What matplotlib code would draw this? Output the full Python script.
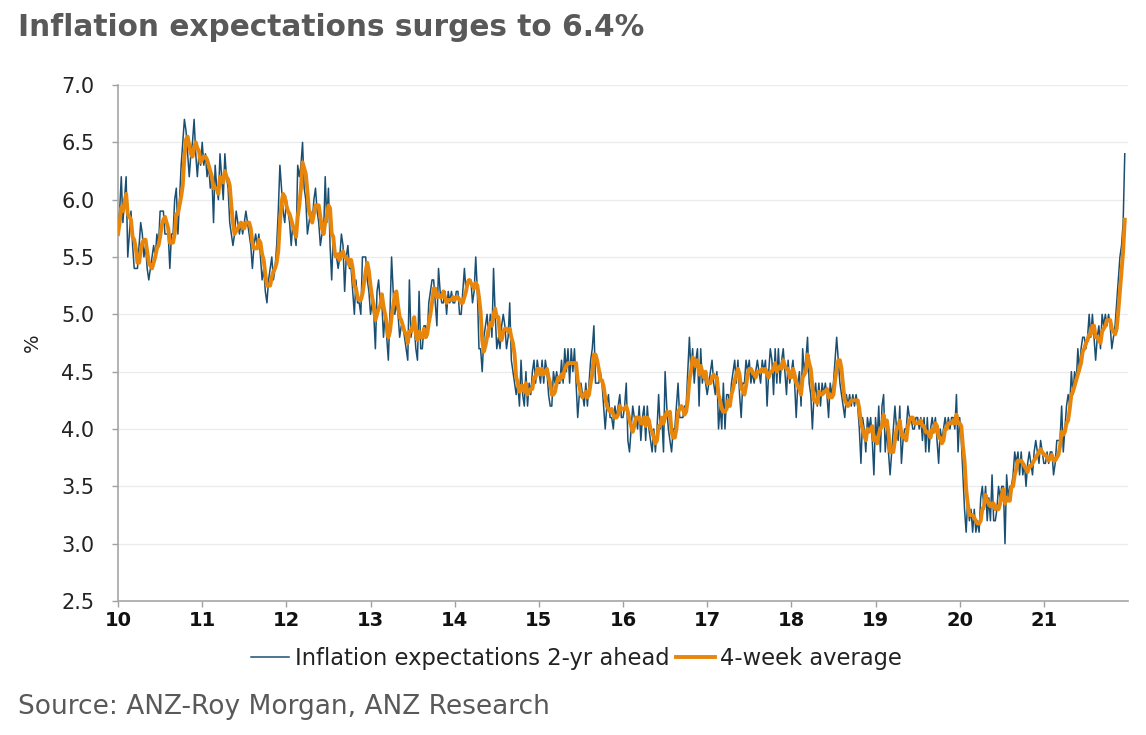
import matplotlib
matplotlib.use("Agg")
import matplotlib.pyplot as plt
import numpy as np
import pandas as pd

# Weekly inflation expectations (2-yr ahead), %, by year
y2010 = [5.7,5.9,6.2,5.8,6.0,6.2,5.5,5.7,5.9,5.6,5.4,5.4,5.4,5.6,5.8,5.7,5.5,5.6,5.4,5.3,
         5.4,5.5,5.6,5.5,5.7,5.6,5.9,5.9,5.9,5.7,5.7,5.7,5.4,5.7,5.7,6.0,6.1,5.7,6.0,6.3,
         6.5,6.7,6.6,6.4,6.2,6.4,6.5,6.7,6.4,6.2,6.4,6.3]
y2011 = [6.5,6.3,6.4,6.2,6.3,6.1,6.2,5.8,6.3,6.1,6.0,6.4,6.2,6.0,6.4,6.2,6.1,5.8,5.7,5.6,
         5.7,5.9,5.8,5.7,5.8,5.7,5.8,5.9,5.8,5.7,5.6,5.4,5.6,5.7,5.6,5.7,5.5,5.3,5.4,5.2,
         5.1,5.3,5.4,5.5,5.3,5.4,5.6,5.9,6.3,6.1,5.9,5.8]
y2012 = [6.0,5.9,5.8,5.6,5.8,5.7,5.6,6.3,6.2,6.3,6.5,6.1,6.0,5.7,5.8,5.9,5.8,6.0,6.1,5.9,
         5.8,5.6,5.7,5.7,6.2,5.8,6.1,5.6,5.3,5.7,5.5,5.5,5.4,5.5,5.7,5.6,5.2,5.5,5.6,5.4,
         5.4,5.2,5.0,5.3,5.1,5.1,5.0,5.5,5.5,5.5,5.3,5.2]
y2013 = [5.0,5.1,5.0,4.7,5.2,5.3,5.1,5.1,4.8,5.0,4.8,4.6,5.0,5.5,5.2,5.0,5.1,5.0,4.8,4.9,
         4.9,4.8,4.7,4.6,5.3,4.8,4.9,4.9,4.7,4.6,5.2,4.7,4.7,4.9,4.9,4.8,5.1,5.2,5.3,5.3,
         5.1,4.9,5.4,5.2,5.1,5.1,5.2,5.0,5.2,5.1,5.2,5.1]
y2014 = [5.1,5.2,5.2,5.0,5.0,5.2,5.4,5.2,5.3,5.3,5.3,5.1,5.2,5.5,5.2,4.7,4.7,4.5,4.8,4.9,
         5.0,4.8,5.0,4.8,5.4,5.0,4.7,4.8,4.7,4.9,5.0,4.9,4.7,4.8,5.1,4.6,4.5,4.4,4.3,4.4,
         4.2,4.6,4.3,4.2,4.5,4.2,4.4,4.3,4.5,4.6,4.4,4.6]
y2015 = [4.5,4.4,4.6,4.4,4.6,4.5,4.3,4.2,4.2,4.5,4.4,4.5,4.4,4.4,4.6,4.4,4.7,4.5,4.7,4.4,
         4.7,4.5,4.7,4.4,4.1,4.3,4.4,4.3,4.2,4.4,4.2,4.4,4.6,4.7,4.9,4.4,4.4,4.4,4.5,4.4,
         4.2,4.0,4.2,4.3,4.1,4.1,4.0,4.2,4.1,4.2,4.3,4.1]
y2016 = [4.1,4.2,4.4,3.9,3.8,4.0,4.2,4.1,4.1,4.0,4.2,3.9,4.1,4.2,3.9,4.2,4.0,3.9,3.8,4.0,
         3.8,4.0,4.3,4.0,4.1,3.8,4.5,4.2,4.0,3.9,3.8,4.0,4.0,4.2,4.4,4.1,4.1,4.1,4.2,4.2,
         4.5,4.8,4.5,4.7,4.4,4.6,4.7,4.2,4.7,4.4,4.5,4.4]
y2017 = [4.3,4.4,4.5,4.6,4.4,4.3,4.5,4.0,4.2,4.0,4.4,4.0,4.3,4.3,4.2,4.4,4.5,4.6,4.4,4.6,
         4.3,4.1,4.4,4.4,4.6,4.5,4.6,4.4,4.5,4.4,4.5,4.6,4.5,4.4,4.6,4.5,4.6,4.2,4.5,4.7,
         4.6,4.3,4.7,4.4,4.7,4.4,4.6,4.7,4.5,4.3,4.6,4.4]
y2018 = [4.5,4.6,4.4,4.1,4.4,4.5,4.2,4.7,4.5,4.6,4.8,4.4,4.3,4.0,4.3,4.4,4.2,4.4,4.2,4.4,
         4.3,4.4,4.3,4.1,4.4,4.3,4.4,4.6,4.8,4.6,4.4,4.3,4.2,4.1,4.3,4.2,4.3,4.2,4.3,4.2,
         4.3,4.2,4.0,3.7,4.1,4.0,3.8,4.1,4.0,4.1,3.9,3.6]
y2019 = [4.1,3.9,4.2,3.8,4.2,4.3,3.8,4.0,3.8,3.6,3.8,4.0,4.2,4.0,3.9,4.2,3.7,3.9,4.0,4.0,
         4.2,4.1,4.1,4.0,4.0,4.1,4.1,4.0,4.1,3.9,4.1,3.8,4.1,3.8,4.0,4.1,4.0,4.1,3.9,3.7,
         4.0,3.9,4.0,4.1,4.0,4.1,4.0,4.1,4.1,4.0,4.3,3.8]
y2020 = [4.1,3.9,3.6,3.3,3.1,3.4,3.2,3.3,3.1,3.3,3.1,3.2,3.1,3.4,3.5,3.3,3.5,3.2,3.4,3.2,
         3.6,3.2,3.2,3.3,3.5,3.4,3.5,3.5,3.0,3.6,3.4,3.5,3.5,3.6,3.8,3.7,3.8,3.6,3.8,3.6,
         3.7,3.5,3.7,3.8,3.7,3.6,3.8,3.9,3.8,3.7,3.9,3.8]
y2021 = [3.7,3.7,3.8,3.7,3.8,3.8,3.6,3.7,3.9,3.9,3.9,4.2,3.8,4.0,4.2,4.3,4.2,4.5,4.3,4.5,
         4.4,4.7,4.5,4.7,4.8,4.8,4.7,4.8,5.0,4.8,5.0,4.8,4.6,4.8,4.9,4.7,5.0,4.9,5.0,4.9,
         5.0,4.9,4.7,4.8,4.9,5.1,5.3,5.5,5.6,5.8,6.4]

x_ticks = [10, 11, 12, 13, 14, 15, 16, 17, 18, 19, 20, 21]
y_ticks = [2.5, 3.0, 3.5, 4.0, 4.5, 5.0, 5.5, 6.0, 6.5, 7.0]
series_label = "Inflation expectations 2-yr ahead"
avg_label = "4-week average"
title = "Inflation expectations surges to 6.4%"
source = "Source: ANZ-Roy Morgan, ANZ Research"

weekly = (y2010 + y2011 + y2012 + y2013 + y2014 + y2015 + y2016 +
          y2017 + y2018 + y2019 + y2020 + y2021)
s = pd.Series(weekly, dtype=float)
avg4 = s.rolling(4, min_periods=1).mean()
x = 10 + np.arange(len(s)) / 52.0

fig = plt.figure(figsize=(11.46, 7.35), dpi=100)
ax = fig.add_axes([0.103, 0.1823, 0.8813, 0.7021])

blue = "#1b4f72"
orange = "#e8860b"
grey_txt = "#595959"

ax.plot(x, s.values, color=blue, lw=1.1, label=series_label, zorder=3)
ax.plot(x, avg4.values, color=orange, lw=2.8, label=avg_label, zorder=4)

ax.set_xlim(10, 22)
ax.set_ylim(2.5, 7.0)
ax.set_yticks(y_ticks)
ax.set_yticklabels([f"{v:.1f}" for v in y_ticks], fontsize=15, color="#222222")
ax.set_xticks(x_ticks)
ax.set_xticklabels([str(v) for v in x_ticks], fontsize=14, fontweight="bold", color="#111111")
ax.tick_params(axis="both", length=4, color="#a0a0a0", width=1)
ax.tick_params(axis="x", direction="out", pad=3)
ax.tick_params(axis="y", direction="out", pad=13)

ax.grid(axis="y", color="#ebebeb", lw=0.9, zorder=0)
ax.set_axisbelow(True)
for sp in ["top", "right"]:
    ax.spines[sp].set_visible(False)
for sp in ["left", "bottom"]:
    ax.spines[sp].set_color("#a6a6a6")
    ax.spines[sp].set_linewidth(1.2)

ax.set_ylabel("%", fontsize=14, color="#222222", labelpad=14)

leg = ax.legend(loc="upper center", bbox_to_anchor=(0.454, -0.05), ncol=2, frameon=False,
                fontsize=16.3, handlelength=1.7, handletextpad=0.25, columnspacing=0.3)
for t in leg.get_texts():
    t.set_color("#222222")

fig.text(0.0157, 0.962, title, fontsize=21.3, fontweight="bold", color=grey_txt,
         ha="left", va="center")
fig.text(0.0157, 0.038, source, fontsize=19, color=grey_txt, ha="left", va="center")

fig.savefig("out.png", dpi=100)
